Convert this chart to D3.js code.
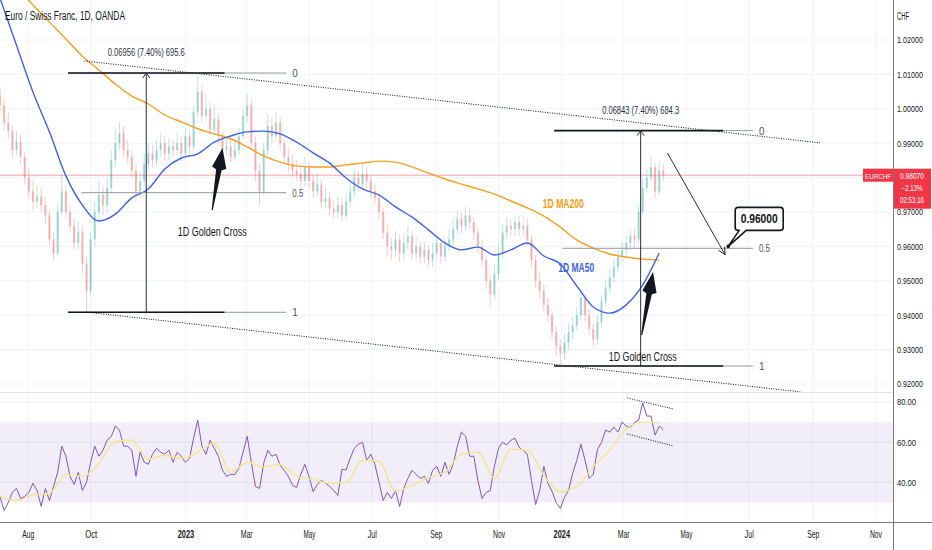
<!DOCTYPE html>
<html lang="en">
<head>
<meta charset="utf-8">
<title>Euro / Swiss Franc, 1D</title>
<script src="https://d3js.org/d3.v7.min.js"></script>
<style>
  body { margin: 0; background: #fff; }
  svg { display: block; font-family: "Liberation Sans", Roboto, sans-serif; }
</style>
</head>
<body>
<svg id="chart" width="932" height="550"></svg>
<script>
// ---- data ----
var startDate = new Date(2022, 6, 5);
var endDate = new Date(2024, 10, 18);
var barStepDays = 4;     // one candle per 4 calendar days
var maStepDays = 16;     // MA samples every 16 days
var firstOpen = 1.0040;
var lastPrice = 0.98070;

var closes = [
  1.0010,0.9960,0.9935,0.9880,0.9905,0.9860,0.9800,0.9760,0.9730,0.9745,
  0.9720,0.9690,0.9620,0.9580,0.9700,0.9760,0.9700,0.9660,0.9610,0.9640,
  0.9550,0.9470,0.9620,0.9700,0.9750,0.9720,0.9770,0.9850,0.9900,0.9930,
  0.9880,0.9860,0.9820,0.9760,0.9790,0.9840,0.9870,0.9850,0.9880,0.9900,
  0.9870,0.9890,0.9880,0.9900,0.9870,0.9920,0.9890,0.9990,1.0050,0.9980,
  1.0000,0.9940,0.9970,0.9920,0.9880,0.9890,0.9860,0.9880,0.9920,0.9980,
  1.0010,0.9900,0.9820,0.9760,0.9880,0.9950,0.9920,0.9960,0.9900,0.9860,
  0.9840,0.9820,0.9810,0.9790,0.9830,0.9790,0.9760,0.9780,0.9730,0.9740,
  0.9710,0.9700,0.9720,0.9690,0.9730,0.9760,0.9800,0.9780,0.9810,0.9790,
  0.9760,0.9740,0.9700,0.9640,0.9600,0.9590,0.9620,0.9580,0.9610,0.9630,
  0.9580,0.9600,0.9570,0.9590,0.9560,0.9580,0.9610,0.9570,0.9600,0.9620,
  0.9650,0.9680,0.9660,0.9690,0.9670,0.9640,0.9600,0.9560,0.9500,0.9460,
  0.9520,0.9580,0.9640,0.9660,0.9650,0.9670,0.9650,0.9660,0.9620,0.9560,
  0.9500,0.9470,0.9430,0.9400,0.9350,0.9310,0.9290,0.9320,0.9350,0.9370,
  0.9400,0.9450,0.9400,0.9360,0.9330,0.9380,0.9440,0.9480,0.9510,0.9540,
  0.9570,0.9590,0.9610,0.9630,0.9620,0.9700,0.9770,0.9800,0.9830,0.9760,
  0.9820,0.9807
];
var highs = [
  1.0065,1.0030,0.9990,0.9950,0.9935,0.9925,0.9875,0.9830,0.9790,0.9775,
  0.9770,0.9745,0.9705,0.9640,0.9720,0.9810,0.9780,0.9720,0.9680,0.9670,
  0.9660,0.9570,0.9640,0.9730,0.9790,0.9775,0.9800,0.9880,0.9940,0.9960,
  0.9950,0.9910,0.9880,0.9840,0.9820,0.9870,0.9900,0.9895,0.9910,0.9930,
  0.9920,0.9915,0.9910,0.9930,0.9920,0.9945,0.9935,1.0010,1.0095,1.0070,
  1.0045,1.0020,1.0010,0.9985,0.9935,0.9915,0.9910,0.9905,0.9945,1.0000,
  1.0045,1.0025,0.9920,0.9840,0.9900,0.9985,0.9975,0.9990,0.9975,0.9920,
  0.9885,0.9865,0.9850,0.9835,0.9860,0.9845,0.9810,0.9810,0.9795,0.9770,
  0.9760,0.9735,0.9745,0.9740,0.9755,0.9790,0.9825,0.9820,0.9840,0.9830,
  0.9805,0.9780,0.9755,0.9715,0.9660,0.9625,0.9645,0.9635,0.9640,0.9660,
  0.9645,0.9625,0.9615,0.9615,0.9605,0.9610,0.9635,0.9625,0.9625,0.9650,
  0.9680,0.9705,0.9700,0.9715,0.9710,0.9685,0.9655,0.9620,0.9575,0.9520,
  0.9545,0.9605,0.9665,0.9685,0.9680,0.9690,0.9690,0.9685,0.9680,0.9635,
  0.9575,0.9525,0.9490,0.9450,0.9415,0.9370,0.9330,0.9345,0.9375,0.9395,
  0.9425,0.9470,0.9460,0.9415,0.9375,0.9400,0.9460,0.9505,0.9535,0.9565,
  0.9590,0.9615,0.9635,0.9650,0.9650,0.9720,0.9795,0.9825,0.9860,0.9845,
  0.9845,0.9840
];
var lows = [
  0.9985,0.9940,0.9910,0.9855,0.9865,0.9840,0.9780,0.9740,0.9705,0.9710,
  0.9700,0.9665,0.9600,0.9560,0.9570,0.9690,0.9680,0.9640,0.9590,0.9595,
  0.9520,0.9410,0.9455,0.9600,0.9680,0.9690,0.9700,0.9755,0.9830,0.9880,
  0.9860,0.9840,0.9800,0.9730,0.9740,0.9775,0.9820,0.9830,0.9835,0.9860,
  0.9850,0.9850,0.9860,0.9865,0.9850,0.9855,0.9870,0.9880,0.9975,0.9960,
  0.9965,0.9920,0.9925,0.9895,0.9860,0.9865,0.9845,0.9845,0.9865,0.9910,
  0.9960,0.9880,0.9790,0.9720,0.9750,0.9865,0.9900,0.9905,0.9880,0.9840,
  0.9815,0.9800,0.9790,0.9770,0.9775,0.9770,0.9740,0.9745,0.9710,0.9710,
  0.9690,0.9680,0.9685,0.9675,0.9680,0.9715,0.9745,0.9760,0.9765,0.9770,
  0.9740,0.9720,0.9680,0.9620,0.9570,0.9560,0.9570,0.9555,0.9560,0.9590,
  0.9560,0.9560,0.9550,0.9550,0.9540,0.9540,0.9565,0.9550,0.9555,0.9585,
  0.9605,0.9635,0.9640,0.9645,0.9650,0.9620,0.9580,0.9540,0.9475,0.9425,
  0.9445,0.9505,0.9565,0.9620,0.9630,0.9630,0.9630,0.9630,0.9600,0.9540,
  0.9480,0.9450,0.9410,0.9380,0.9330,0.9280,0.9255,0.9270,0.9300,0.9330,
  0.9355,0.9385,0.9380,0.9340,0.9310,0.9315,0.9365,0.9425,0.9465,0.9495,
  0.9525,0.9555,0.9570,0.9590,0.9595,0.9610,0.9690,0.9755,0.9790,0.9740,
  0.9750,0.9790
];
var rsiValues = [
  32.9,26,30,35,37,32,33,35,39.5,36,
  28,37,31,38,45,58,53,43,39,45,
  36,40,50,58,53,56,61,62.8,68,66,
  58,58,56,43,55,50,49,54,57,55,
  54,56,50,55,53,50,52,62,71,58,
  54,61,57,53,46,43,44,44,47,55,
  63,50,38,37,49.5,56,53,54,48.5,46,
  43,38.5,37.5,44,49,43,35.4,39,41,39.5,
  38,36,33.5,46.5,46.2,52,57,59,60,51,
  54,49,40,31,35,32,36,28,37,42,
  46,44,42,43,39.5,46,48,43,50,44,
  49,58,65,63,53,53,41,32,35,36,
  48,57,60,58.6,61,62,57.5,55.8,54,41,
  29,36,48,39.5,35.5,30,27,32.5,36,44.5,
  51,59,51,42,44,56.3,60,66,65,67.5,
  65,70,68,67.5,69.7,71,79.5,73,73,63.5,
  68,66.1
];
var ma50 = [
  1.0322,1.0185,1.0049,0.9933,0.9805,0.9720,0.9674,0.9694,0.9741,0.9767,
  0.9825,0.9857,0.9869,0.9903,0.9921,0.9933,0.9935,0.9927,0.9903,0.9872,
  0.9842,0.9799,0.9767,0.9749,0.9715,0.9685,0.9648,0.9610,0.9590,0.9598,
  0.9575,0.9590,0.9610,0.9572,0.9549,0.9485,0.9424,0.9406,0.9430,0.9488,
  0.9581
];
var ma200 = [
  1.0398,1.0351,1.0302,1.0252,1.0203,1.0153,1.0113,1.0072,1.0037,1.0014,
  0.9982,0.9962,0.9942,0.9927,0.9913,0.9889,0.9863,0.9845,0.9834,0.9831,
  0.9831,0.9837,0.9842,0.9848,0.9845,0.9831,0.9813,0.9796,0.9781,0.9767,
  0.9752,0.9732,0.9712,0.9688,0.9656,0.9619,0.9595,0.9578,0.9569,0.9563,
  0.9560
];
var rsiMa = [
  33,31,33.7,34.5,44,43,49.5,60.5,61,51.5,
  53.5,52,55,59.5,45,50,47.7,49,43,41.4,
  39.6,40,51,50.5,35.5,38.5,42.5,45,54,55,
  42,56.5,56,43.5,35.3,38,47.8,56,66.8,70,
  69.8
];
var priceTicks = [1.02, 1.01, 1.00, 0.99, 0.98, 0.97, 0.96, 0.95, 0.94, 0.93, 0.92];
var rsiTicks = [80, 60, 40];
var xTickDates = ["2022-08-01","2022-10-01","2023-01-01","2023-03-01","2023-05-01","2023-07-01",
                  "2023-09-01","2023-11-01","2024-01-01","2024-03-01","2024-05-01","2024-07-01",
                  "2024-09-01","2024-11-01"];

// drawings (date, value)
var channelUpper = [["2022-09-25", 1.0139], ["2024-09-08", 0.9901]];
var channelLower = [["2022-09-27", 0.9409], ["2024-08-20", 0.9177]];
var rsiUpper = [["2024-03-05", 82], ["2024-04-19", 76.5]];
var rsiLower = [["2024-03-05", 64.1], ["2024-04-19", 58.1]];
var fibs = [
  {top: 1.01040, bottom: 0.94084, start: "2022-09-09", blackEnd: "2023-02-08", end: "2023-04-09",
   midStart: "2022-09-22", measure: "2022-11-24", label: "0.06956 (7.40%) 695.6"},
  {top: 0.99366, bottom: 0.92523, start: "2023-12-25", blackEnd: "2024-06-06", end: "2024-07-05",
   midStart: "2024-01-02", measure: "2024-03-18", label: "0.06843 (7.40%) 684.3"}
];
var bigArrows = [
  [["2023-01-27", 0.97058], ["2023-02-06", 0.98860]],
  [["2024-03-19", 0.93424], ["2024-03-30", 0.95256]]
];
var forecast = [["2024-04-13", 0.98715], ["2024-06-08", 0.95756]];
var target = ["2024-06-11", 0.96000];

// ---- layout ----
var plotR = 893, mainBottom = 392, rsiTop = 393, rsiBottom = 522;
var up = "#26a69a", down = "#ef5350", red = "#f23645";
var parse = d3.timeParse("%Y-%m-%d");

var svg = d3.select("#chart");
var x = d3.scaleTime().domain([startDate, endDate]).range([0, plotR]);
var y = d3.scaleLinear().domain([0.92, 1.02]).range([384, 40]);
var yr = d3.scaleLinear().domain([30, 80]).range([502.5, 402]);

var defs = svg.append("defs");
defs.append("clipPath").attr("id", "clipMain").append("rect")
    .attr("x", 0).attr("y", 0).attr("width", plotR).attr("height", mainBottom);
defs.append("clipPath").attr("id", "clipRsi").append("rect")
    .attr("x", 0).attr("y", rsiTop).attr("width", plotR).attr("height", rsiBottom - rsiTop);

function addText(g, s, px, py, o) {
  var t = g.append("text").attr("x", px).attr("y", py).text(s)
     .attr("font-size", o.size || 11).attr("fill", o.fill || "#131722")
     .attr("text-anchor", o.anchor || "start");
  if (o.weight) t.attr("font-weight", o.weight);
  if (o.len) t.attr("textLength", o.len).attr("lengthAdjust", "spacingAndGlyphs");
  return t;
}

// grid
var grid = svg.append("g");
grid.selectAll("line.h").data(priceTicks).enter().append("line")
    .attr("x1", 0).attr("x2", plotR).attr("y1", function(d){ return y(d); }).attr("y2", function(d){ return y(d); })
    .attr("stroke", "#f0f3fa");
grid.selectAll("line.r").data(rsiTicks).enter().append("line")
    .attr("x1", 0).attr("x2", plotR).attr("y1", function(d){ return yr(d); }).attr("y2", function(d){ return yr(d); })
    .attr("stroke", "#eceef2");
grid.selectAll("line.v").data(xTickDates).enter().append("line")
    .attr("x1", function(d){ return x(parse(d)); }).attr("x2", function(d){ return x(parse(d)); })
    .attr("y1", 0).attr("y2", rsiBottom).attr("stroke", "#f0f3fa");

// RSI band
svg.append("rect").attr("x", 0).attr("width", plotR)
   .attr("y", yr(70)).attr("height", yr(30) - yr(70))
   .attr("fill", "#7e57c2").attr("fill-opacity", 0.1);

// pane separator
svg.append("line").attr("x1", 0).attr("x2", 932).attr("y1", rsiTop - 0.5).attr("y2", rsiTop - 0.5)
   .attr("stroke", "#e0e3eb");

// candles
var bars = closes.map(function(c, i) {
  return { date: d3.timeDay.offset(startDate, i * barStepDays),
           open: i === 0 ? firstOpen : closes[i - 1], close: c,
           high: highs[i], low: lows[i], rsi: rsiValues[i] };
});
var main = svg.append("g").attr("clip-path", "url(#clipMain)");
main.selectAll("line.wick").data(bars).enter().append("line")
    .attr("x1", function(d){ return x(d.date); }).attr("x2", function(d){ return x(d.date); })
    .attr("y1", function(d){ return y(d.high); }).attr("y2", function(d){ return y(d.low); })
    .attr("stroke", function(d){ return d.close >= d.open ? up : down; })
    .attr("stroke-opacity", 0.3);
main.selectAll("rect.body").data(bars).enter().append("rect")
    .attr("x", function(d){ return x(d.date) - 1.1; }).attr("width", 2.2)
    .attr("y", function(d){ return y(Math.max(d.open, d.close)); })
    .attr("height", function(d){ return Math.max(0.8, Math.abs(y(d.open) - y(d.close))); })
    .attr("fill", function(d){ return d.close >= d.open ? up : down; })
    .attr("fill-opacity", 0.32);

// last price line
main.append("line").attr("x1", 0).attr("x2", plotR).attr("y1", y(lastPrice)).attr("y2", y(lastPrice))
    .attr("stroke", red).attr("stroke-opacity", 0.45);

// moving averages
function maSeries(arr) {
  return arr.map(function(v, i){ return { date: d3.timeDay.offset(startDate, i * maStepDays), v: v }; });
}
var maLine = d3.line().x(function(d){ return x(d.date); }).y(function(d){ return y(d.v); }).curve(d3.curveMonotoneX);
main.append("path").datum(maSeries(ma200)).attr("d", maLine)
    .attr("fill", "none").attr("stroke", "#f5a021").attr("stroke-width", 1.4);
main.append("path").datum(maSeries(ma50)).attr("d", maLine)
    .attr("fill", "none").attr("stroke", "#3f62ea").attr("stroke-width", 1.4);

// helpers for drawings
function px(p) { return x(parse(p[0])); }
function py(p) { return y(p[1]); }

// channel
var ann = svg.append("g").attr("clip-path", "url(#clipMain)");
[channelUpper, channelLower].forEach(function(l) {
  ann.append("line").attr("x1", px(l[0])).attr("y1", py(l[0])).attr("x2", px(l[1])).attr("y2", py(l[1]))
     .attr("stroke", "#131722").attr("stroke-width", 1).attr("stroke-dasharray", "1,1.4");
});

// fib retracements + measurement
fibs.forEach(function(f) {
  var xs = x(parse(f.start)), xb = x(parse(f.blackEnd)), xe = x(parse(f.end)), xm = x(parse(f.midStart));
  var mid = (f.top + f.bottom) / 2;
  [[f.top, xs, "0"], [mid, xm, "0.5"], [f.bottom, xs, "1"]].forEach(function(lv) {
    ann.append("line").attr("x1", lv[1]).attr("x2", xe).attr("y1", y(lv[0])).attr("y2", y(lv[0]))
       .attr("stroke", "#9598a1").attr("stroke-width", 1);
    addText(ann, lv[2], xe + 6, y(lv[0]) + 4, {size: 11, fill: "#50535e", len: lv[2].length > 1 ? 11 : 5.5});
  });
  [f.top, f.bottom].forEach(function(v) {
    ann.append("line").attr("x1", xs).attr("x2", xb).attr("y1", y(v)).attr("y2", y(v))
       .attr("stroke", "#131722").attr("stroke-width", 1.6);
  });
  var mx = x(parse(f.measure)), yt = y(f.top), yb = y(f.bottom);
  ann.append("line").attr("x1", mx).attr("x2", mx).attr("y1", yb).attr("y2", yt)
     .attr("stroke", "#2a2e39").attr("stroke-width", 1);
  ann.append("path").attr("d", "M" + (mx - 3.5) + "," + (yt + 5) + "L" + mx + "," + yt + "L" + (mx + 3.5) + "," + (yt + 5))
     .attr("fill", "none").attr("stroke", "#2a2e39");
  addText(ann, f.label, mx, yt - 17, {size: 11, anchor: "middle", fill: "#2a2e39", len: 77});
});

// big black arrows
function arrowPoly(x1, y1, x2, y2) {
  var dx = x2 - x1, dy = y2 - y1, L = Math.hypot(dx, dy), ux = dx / L, uy = dy / L, nx = -uy, ny = ux;
  var h = 22, w1 = 2.8, w2 = 7.2;
  var pts = [[0, -0.6], [L - h, -w1], [L - h + 2, -w2], [L, 0], [L - h + 2, w2], [L - h, w1], [0, 0.6]];
  return pts.map(function(p){ return [x1 + ux * p[0] + nx * p[1], y1 + uy * p[0] + ny * p[1]].join(","); }).join(" ");
}
bigArrows.forEach(function(a) {
  ann.append("polygon").attr("points", arrowPoly(px(a[0]), py(a[0]), px(a[1]), py(a[1])))
     .attr("fill", "#131722");
});

// forecast arrow
(function() {
  var x1 = px(forecast[0]), y1 = py(forecast[0]), x2 = px(forecast[1]), y2 = py(forecast[1]);
  ann.append("line").attr("x1", x1).attr("y1", y1).attr("x2", x2).attr("y2", y2)
     .attr("stroke", "#2a2e39").attr("stroke-width", 1);
  var ang = Math.atan2(y2 - y1, x2 - x1), hl = 8;
  var a1 = ang + Math.PI - 0.45, a2 = ang + Math.PI + 0.45;
  ann.append("path").attr("d", "M" + (x2 + hl * Math.cos(a1)) + "," + (y2 + hl * Math.sin(a1)) +
      "L" + x2 + "," + y2 + "L" + (x2 + hl * Math.cos(a2)) + "," + (y2 + hl * Math.sin(a2)))
     .attr("fill", "none").attr("stroke", "#2a2e39").attr("stroke-width", 1);
})();

// callout
(function() {
  var tx = px(target), ty = py(target);
  var bx = tx + 7, by = ty - 39, bw = 48, bh = 23, r = 3;
  var d = "M" + (bx + r) + "," + by + "H" + (bx + bw - r) + "Q" + (bx + bw) + "," + by + " " + (bx + bw) + "," + (by + r) +
          "V" + (by + bh - r) + "Q" + (bx + bw) + "," + (by + bh) + " " + (bx + bw - r) + "," + (by + bh) +
          "H" + (bx + 11) + "L" + tx + "," + ty + "L" + (bx + 4) + "," + (by + bh) + "H" + (bx + r) +
          "Q" + bx + "," + (by + bh) + " " + bx + "," + (by + bh - r) + "V" + (by + r) + "Q" + bx + "," + by + " " + (bx + r) + "," + by + "Z";
  svg.append("path").attr("d", d).attr("fill", "#fff").attr("stroke", "#131722").attr("stroke-width", 1.6)
     .attr("stroke-linejoin", "round");
  svg.append("circle").attr("cx", tx).attr("cy", ty).attr("r", 1.8).attr("fill", "#131722");
  addText(svg, target[1].toFixed(5), bx + bw / 2, by + 16, {size: 13, weight: "bold", anchor: "middle", len: 37});
})();

// text notes
addText(svg, "1D Golden Cross", x(parse("2023-01-27")), y(0.96302), {size: 13, anchor: "middle", len: 69});
addText(svg, "1D Golden Cross", x(parse("2024-03-20")), y(0.92669), {size: 13, anchor: "middle", len: 68});
addText(svg, "1D MA200", x(parse("2023-12-14")), y(0.97116), {size: 13, fill: "#f39c12", weight: "600", len: 41});
addText(svg, "1D MA50", x(parse("2023-12-29")), y(0.95256), {size: 13, fill: "#3f62ea", weight: "600", len: 36});

// RSI pane
var rsiG = svg.append("g").attr("clip-path", "url(#clipRsi)");
rsiG.append("path").datum(bars)
    .attr("d", d3.line().x(function(d){ return x(d.date); }).y(function(d){ return yr(d.rsi); }))
    .attr("fill", "none").attr("stroke", "#7e57c2").attr("stroke-width", 1);
rsiG.append("path").datum(maSeries(rsiMa))
    .attr("d", d3.line().x(function(d){ return x(d.date); }).y(function(d){ return yr(d.v); }).curve(d3.curveMonotoneX))
    .attr("fill", "none").attr("stroke", "#f4e58e").attr("stroke-width", 1.4);
[rsiUpper, rsiLower].forEach(function(l) {
  rsiG.append("line").attr("x1", px(l[0])).attr("y1", yr(l[0][1])).attr("x2", px(l[1])).attr("y2", yr(l[1][1]))
      .attr("stroke", "#131722").attr("stroke-width", 1).attr("stroke-dasharray", "1,1.4");
});

// price axis
var ly = y(lastPrice);
var axisG = svg.append("g");
axisG.append("rect").attr("x", plotR).attr("y", 0).attr("width", 932 - plotR).attr("height", 550).attr("fill", "#fff");
axisG.append("g").attr("transform", "translate(" + plotR + ",0)")
     .call(d3.axisRight(y).tickValues(priceTicks).tickFormat(d3.format(".5f")).tickSize(0).tickPadding(4))
     .call(function(g){ g.select(".domain").remove(); })
     .selectAll("text").attr("font-size", 9).attr("fill", "#131722").attr("font-family", "Liberation Sans")
     .attr("textLength", 26).attr("lengthAdjust", "spacingAndGlyphs")
     .attr("display", function(d){ return Math.abs(y(d) - ly) < 8 ? "none" : null; });
axisG.append("g").attr("transform", "translate(" + plotR + ",0)")
     .call(d3.axisRight(yr).tickValues(rsiTicks).tickFormat(d3.format(".2f")).tickSize(0).tickPadding(4))
     .call(function(g){ g.select(".domain").remove(); })
     .selectAll("text").attr("font-size", 9).attr("fill", "#131722").attr("font-family", "Liberation Sans")
     .attr("textLength", 19).attr("lengthAdjust", "spacingAndGlyphs");
addText(axisG, "CHF", plotR + 4, 20, {size: 10, fill: "#131722", len: 12});

// time axis
var monthFmt = d3.timeFormat("%b"), yearFmt = d3.timeFormat("%Y");
var xAxisG = svg.append("g").attr("transform", "translate(0," + rsiBottom + ")")
    .call(d3.axisBottom(x).tickValues(xTickDates.map(parse)).tickSize(0).tickPadding(9)
      .tickFormat(function(d){ return d.getMonth() === 0 ? yearFmt(d) : monthFmt(d); }));
xAxisG.select(".domain").remove();
xAxisG.selectAll("text").attr("font-size", 10.5).attr("fill", "#131722").attr("font-family", "Liberation Sans")
    .attr("font-weight", function(d){ return d.getMonth() === 0 ? "bold" : "normal"; })
    .attr("textLength", function(d){ return d.getMonth() === 0 ? 16.5 : (d.getMonth() === 6 ? 9 : 12); })
    .attr("lengthAdjust", "spacingAndGlyphs");

// axis lines
svg.append("line").attr("x1", 0).attr("x2", 932).attr("y1", rsiBottom + 0.5).attr("y2", rsiBottom + 0.5)
   .attr("stroke", "#787b86");
svg.append("line").attr("x1", plotR + 0.5).attr("x2", plotR + 0.5).attr("y1", 0).attr("y2", 550)
   .attr("stroke", "#787b86");

// last price labels
svg.append("rect").attr("x", 863).attr("y", ly - 6.5).attr("width", 30).attr("height", 13).attr("fill", red);
addText(svg, "EURCHF", 878, ly + 3.5, {size: 8, fill: "#fff", anchor: "middle", len: 26});
svg.append("rect").attr("x", plotR + 1).attr("y", ly - 6.5).attr("width", 932 - plotR - 2).attr("height", 40).attr("fill", red);
addText(svg, lastPrice.toFixed(5), 912, ly + 3.5, {size: 8.5, fill: "#fff", anchor: "middle", len: 24});
addText(svg, "\u22122.13%", 912, ly + 16, {size: 8.5, fill: "#fff", anchor: "middle", len: 21});
addText(svg, "02:53:16", 912, ly + 28, {size: 8.5, fill: "#fff", anchor: "middle", len: 24});

// header
addText(svg, "Euro / Swiss Franc, 1D, OANDA", 5, 20, {size: 12.5, fill: "#131722", len: 120});
</script>
</body>
</html>
